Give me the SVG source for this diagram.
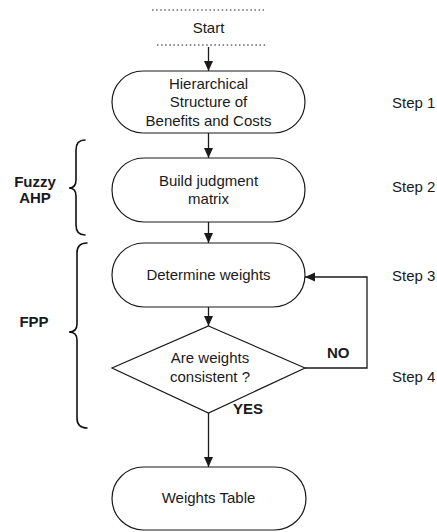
<svg xmlns="http://www.w3.org/2000/svg" width="437" height="532" viewBox="0 0 437 532">
  <style>
    .box { fill: #ffffff; stroke: #1a1a1a; stroke-width: 1.2; }
    .edge { fill: none; stroke: #1a1a1a; stroke-width: 1.3; }
    .brace { fill: none; stroke: #111111; stroke-width: 1.6; stroke-linecap: round; }
    .dots { stroke: #1a1a1a; stroke-width: 1.2; stroke-dasharray: 1.5 2.6; }
    text { font-family: "Liberation Sans", Arial, sans-serif; font-size: 15px; fill: #1a1a1a; }
    .c { text-anchor: middle; }
    .b { font-weight: bold; }
  </style>
  <defs>
    <marker id="arrow" viewBox="0 0 10 10" refX="10" refY="5" markerWidth="10" markerHeight="10" markerUnits="userSpaceOnUse" orient="auto">
      <path d="M0,0.5 L10,5 L0,9.5 Z" fill="#1a1a1a"/>
    </marker>
  </defs>

  <!-- start terminal -->
  <g id="start">
    <line class="dots" x1="152" y1="10" x2="264" y2="10"/>
    <text class="c" x="208.5" y="33">Start</text>
    <line class="dots" x1="157" y1="45" x2="267" y2="45"/>
  </g>

  <!-- process nodes -->
  <g id="hierarchy">
    <rect class="box" x="112" y="71" width="193" height="62" rx="31" ry="31"/>
    <text class="c" x="208.5" y="89">Hierarchical</text>
    <text class="c" x="208.5" y="107">Structure of</text>
    <text class="c" x="208.5" y="126">Benefits and Costs</text>
  </g>

  <g id="judgment">
    <rect class="box" x="112" y="158" width="193" height="64" rx="32" ry="32"/>
    <text class="c" x="208.5" y="186">Build judgment</text>
    <text class="c" x="208.5" y="204">matrix</text>
  </g>

  <g id="weights">
    <rect class="box" x="112" y="243" width="193" height="64" rx="32" ry="32"/>
    <text class="c" x="208.5" y="280">Determine weights</text>
  </g>

  <g id="consistency">
    <polygon class="box" points="208.5,326 305,368 208.5,413 112,368"/>
    <text class="c" x="210" y="363">Are weights</text>
    <text class="c" x="210" y="382">consistent ?</text>
  </g>

  <g id="table">
    <rect class="box" x="112" y="467" width="194" height="63" rx="31.5" ry="31.5"/>
    <text class="c" x="208.5" y="503">Weights Table</text>
  </g>

  <!-- connectors -->
  <g id="connectors">
    <line class="edge" x1="208.5" y1="47" x2="208.5" y2="71" marker-end="url(#arrow)"/>
    <line class="edge" x1="208.5" y1="133" x2="208.5" y2="158" marker-end="url(#arrow)"/>
    <line class="edge" x1="208.5" y1="222" x2="208.5" y2="243" marker-end="url(#arrow)"/>
    <line class="edge" x1="208.5" y1="307" x2="208.5" y2="326" marker-end="url(#arrow)"/>
    <line class="edge" x1="208.5" y1="413" x2="208.5" y2="467" marker-end="url(#arrow)"/>
    <polyline class="edge" points="305,368 367,368 367,277 305,277" marker-end="url(#arrow)"/>
    <text class="b" x="327" y="358">NO</text>
    <text class="b" x="233" y="414">YES</text>
  </g>

  <!-- phase brackets -->
  <g id="fuzzy-ahp">
    <path class="brace" d="M85,140 Q76,140 76,150 L76,180 Q76,188 69,188 Q76,188 76,196 L76,225 Q76,235 85,235"/>
    <text class="c b" x="35" y="187">Fuzzy</text>
    <text class="c b" x="35" y="203">AHP</text>
  </g>

  <g id="fpp">
    <path class="brace" d="M87,243 Q77,243 77,253 L77,324 Q77,332 69,332 Q77,332 77,340 L77,418 Q77,428 87,428"/>
    <text class="c b" x="34" y="327">FPP</text>
  </g>

  <!-- step labels -->
  <g id="steps">
    <text x="392" y="108">Step 1</text>
    <text x="392" y="192">Step 2</text>
    <text x="392" y="281">Step 3</text>
    <text x="392" y="382">Step 4</text>
  </g>
</svg>
